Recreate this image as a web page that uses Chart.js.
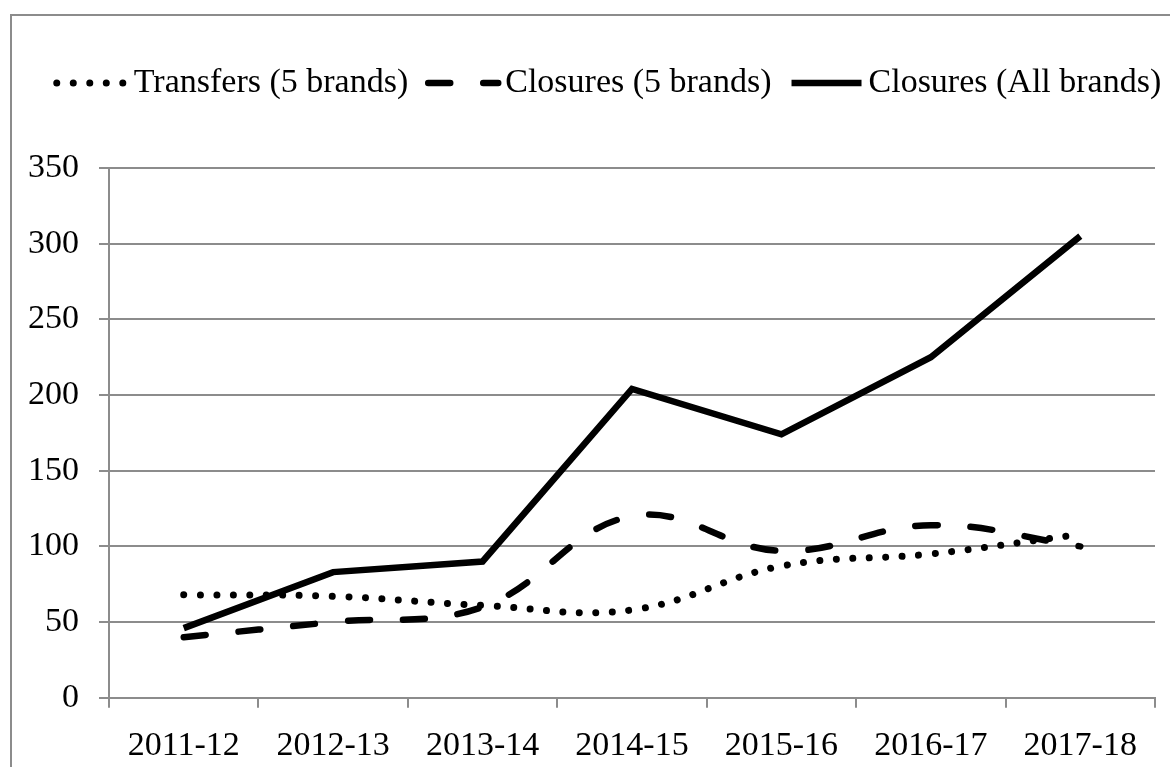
<!DOCTYPE html>
<html>
<head>
<meta charset="utf-8">
<script src="https://cdn.jsdelivr.net/npm/chart.js@4.4.1/dist/chart.umd.min.js"></script>
<style>
  html, body { margin: 0; padding: 0; background: #fff; }
  canvas { display: block; }
</style>
</head>
<body>
<canvas id="myChart" width="1170" height="767"></canvas>
<script>
// Datos
const years = ['2011-12', '2012-13', '2013-14', '2014-15', '2015-16', '2016-17', '2017-18'];
const transfers5 = [68, 67, 61, 58, 87, 95, 108];
const closures5 = [40, 50, 60, 120, 97, 114, 100];
const closuresAll = [46, 83, 90, 204, 174, 225, 305];
const seriesNames = ['Transfers (5 brands)', 'Closures (5 brands)', 'Closures (All brands)'];
const yMin = 0;
const yMax = 350;
const yStep = 50;

const gris = '#8c8c8c';
const fuente = 'Liberation Serif';

// marco gris del grafico (se sale por la derecha y abajo)
const marco = {
    id: 'marco',
    beforeDraw(chart) {
        const ctx = chart.ctx;
        ctx.save();
        ctx.fillStyle = '#fff';
        ctx.fillRect(0, 0, chart.width, chart.height);
        ctx.strokeStyle = gris;
        ctx.lineWidth = 2;
        ctx.strokeRect(11, 15, 3000, 3000);
        ctx.restore();
    }
};

// leyenda con muestras de linea como en Excel
const leyenda = {
    id: 'leyenda',
    afterDraw(chart) {
        const ctx = chart.ctx;
        const ds = chart.data.datasets;
        const largo = 70, sepTexto = 7, sepItem = 20, y = 83;
        ctx.save();
        ctx.font = '34px "' + fuente + '"';
        ctx.textBaseline = 'middle';
        const anchos = ds.map(d => ctx.measureText(d.label).width);
        const total = anchos.reduce((a, b) => a + b, 0) + ds.length * (largo + sepTexto) + (ds.length - 1) * sepItem;
        let x = 609 - total / 2;
        ds.forEach((d, i) => {
            ctx.beginPath();
            ctx.strokeStyle = d.borderColor;
            ctx.lineWidth = d.borderWidth;
            ctx.lineCap = d.borderCapStyle || 'butt';
            ctx.setLineDash(d.borderDash || []);
            ctx.moveTo(x, y);
            ctx.lineTo(x + largo, y);
            ctx.stroke();
            ctx.setLineDash([]);
            ctx.fillStyle = '#000';
            ctx.fillText(d.label, x + largo + sepTexto, y);
            x += largo + sepTexto + anchos[i] + sepItem;
        });
        ctx.restore();
    }
};

const data = {
    labels: years,
    datasets: [{
        label: seriesNames[0],
        data: transfers5,
        borderColor: '#000',
        borderWidth: 7,
        borderDash: [0.01, 16.5],
        borderCapStyle: 'round',
        tension: 0.4,
        pointRadius: 0,
        fill: false
    }, {
        label: seriesNames[1],
        data: closures5,
        borderColor: '#000',
        borderWidth: 6.5,
        borderDash: [22, 33],
        borderCapStyle: 'round',
        tension: 0.4,
        pointRadius: 0,
        fill: false
    }, {
        label: seriesNames[2],
        data: closuresAll,
        borderColor: '#000',
        borderWidth: 6.5,
        borderCapStyle: 'butt',
        tension: 0,
        pointRadius: 0,
        fill: false
    }]
};

const config = {
    type: 'line',
    data: data,
    options: {
        responsive: false,
        animation: false,
        devicePixelRatio: 1,
        layout: {
            padding: { top: 168, left: 0, right: 15, bottom: 0 }
        },
        plugins: {
            legend: { display: false },
            tooltip: { enabled: false }
        },
        scales: {
            x: {
                offset: true,
                grid: {
                    offset: true,
                    drawOnChartArea: false,
                    drawTicks: true,
                    tickLength: 10,
                    color: gris,
                    lineWidth: 2
                },
                border: { color: gris, width: 2 },
                ticks: {
                    color: '#000',
                    font: { family: fuente, size: 34 },
                    padding: 18,
                    maxRotation: 0,
                    autoSkip: false
                },
                afterFit: function(scale) {
                    scale.height = 69.3;
                }
            },
            y: {
                min: yMin,
                max: yMax,
                grid: {
                    color: gris,
                    lineWidth: 2,
                    tickLength: 10
                },
                border: { color: gris, width: 2 },
                ticks: {
                    stepSize: yStep,
                    color: '#000',
                    font: { family: fuente, size: 34 },
                    padding: 20
                },
                afterFit: function(scale) {
                    scale.width = 109;
                }
            }
        }
    },
    plugins: [marco, leyenda]
};

new Chart(document.getElementById('myChart'), config);
</script>
</body>
</html>
